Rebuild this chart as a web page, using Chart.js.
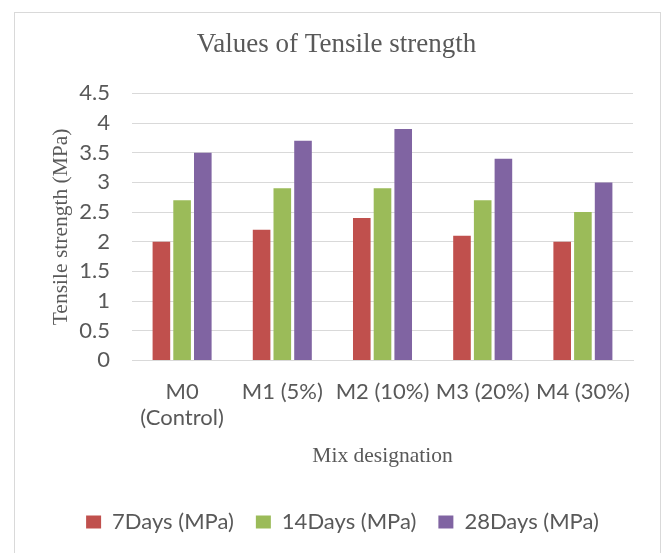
<!DOCTYPE html>
<html>
<head>
<meta charset="utf-8">
<script src="https://cdn.jsdelivr.net/npm/chart.js@4.4.0/dist/chart.umd.min.js"></script>
<style>
  body { margin: 0; background: #fff; }
  #frame { position: absolute; left: 14px; top: 12px; width: 645px; height: 560px; border: 1px solid #d9d9d9; }
  #wrap { position: absolute; left: 0; top: 0; width: 664px; height: 553px; }
</style>
</head>
<body>
<div id="frame"></div>
<div id="wrap"><canvas id="chart" width="664" height="553"></canvas></div>
<script>
const mixes = [['M0', '(Control)'], 'M1 (5%)', 'M2 (10%)', 'M3 (20%)', 'M4 (30%)'];
const days7 = [2.0, 2.2, 2.4, 2.1, 2.0];
const days14 = [2.7, 2.9, 2.9, 2.7, 2.5];
const days28 = [3.5, 3.7, 3.9, 3.4, 3.0];
const seriesNames = ['7Days (MPa)', '14Days (MPa)', '28Days (MPa)'];
const colors = ['#c0504d', '#9bbb59', '#8064a2'];

const tickFont = { family: 'Lato', size: 22 };
const serif = 'Liberation Serif';

// nudge the legend a little to the right, as in the original
const legendShift = {
  id: 'legendShift',
  afterLayout(chart) {
    chart.legend.left += 6;
    chart.legend.right += 6;
  }
};

const ctx = document.getElementById('chart').getContext('2d');
new Chart(ctx, {
  type: 'bar',
  data: {
    labels: mixes,
    datasets: [days7, days14, days28].map((d, i) => ({
      label: seriesNames[i],
      data: d,
      backgroundColor: colors[i],
      borderWidth: 0,
      categoryPercentage: 0.62,
      barPercentage: 0.85
    }))
  },
  options: {
    responsive: false,
    animation: false,
    layout: { padding: { left: 40, right: 31, top: 12, bottom: 10 } },
    plugins: {
      title: {
        display: true,
        text: 'Values of Tensile strength',
        color: '#595959',
        font: { family: serif, size: 27, weight: 'normal' },
        padding: { top: 17, bottom: 32 }
      },
      legend: {
        position: 'bottom',
        labels: {
          color: '#595959',
          font: tickFont,
          boxWidth: 15,
          boxHeight: 13,
          padding: 22
        }
      },
      tooltip: { enabled: false }
    },
    scales: {
      x: {
        grid: { display: false, drawTicks: false },
        border: { color: '#d9d9d9' },
        ticks: { color: '#595959', font: tickFont, maxRotation: 0, autoSkip: false, padding: 18 },
        title: {
          display: true,
          text: 'Mix designation',
          color: '#595959',
          font: { family: serif, size: 21.5 },
          padding: { top: -6, bottom: 20 }
        }
      },
      y: {
        min: 0,
        max: 4.5,
        ticks: { stepSize: 0.5, autoSkip: false, color: '#595959', font: tickFont, padding: 22, callback: v => String(v) },
        grid: { color: '#d9d9d9', drawTicks: false },
        border: { display: false },
        title: {
          display: true,
          text: 'Tensile strength (MPa)',
          color: '#595959',
          font: { family: serif, size: 21.5 },
          padding: { top: 8, bottom: 0 }
        },
        afterFit: scale => { scale.width = 92; }
      }
    }
  },
  plugins: [legendShift]
});
</script>
</body>
</html>
